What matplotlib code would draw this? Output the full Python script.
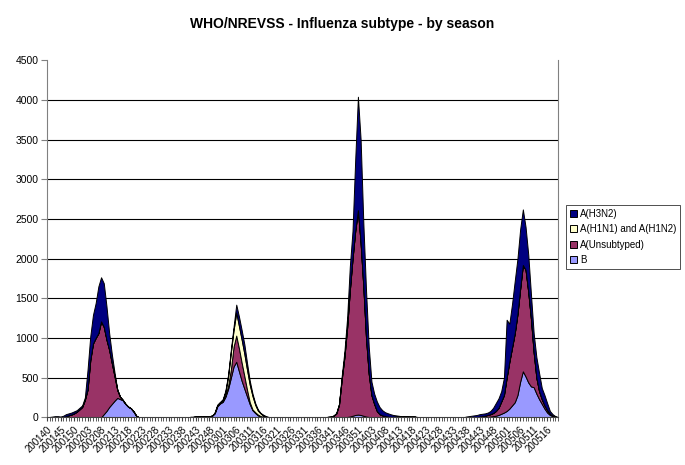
import matplotlib
matplotlib.use("Agg")
import matplotlib.pyplot as plt

plt.rcParams['font.family'] = ['Liberation Sans', 'DejaVu Sans']

# weekly counts of positive specimens, 200140 .. 200520
b_vals = ([0] * 21 +
          [40, 80, 130, 170, 210, 245, 230, 215, 170, 135, 115, 75, 20] +
          [0] * 19 +
          [5, 5, 10, 10, 10, 15, 15, 15, 20, 50, 140, 175, 195, 260, 360, 500, 640,
           700, 580, 460, 360, 262, 165, 90, 55, 25, 10, 5] +
          [0] * 30 +
          [5, 10, 20, 30, 35, 30, 20, 10, 5] +
          [0] * 8 +
          [8, 10, 10, 10, 10, 10, 8, 8, 8] +
          [0] * 26 +
          [5, 10, 15, 20, 30, 45, 60, 80, 110, 150, 190, 280, 450, 580, 515, 440, 390,
           380, 300, 230, 170, 110, 60, 30, 15, 5, 0])

unsub_vals = ([0] * 7 +
              [15, 25, 35, 50, 70, 100, 130, 220, 350, 720, 930, 1000, 1060, 1210,
               1100, 900, 720, 510, 305, 100, 30, 5] +
              [0] * 33 +
              [5, 10, 10, 10, 15, 40, 100, 250, 330, 290, 230, 160, 84, 25, 10, 10, 10,
               5, 3, 3] +
              [0] * 22 +
              [5, 8, 20, 50, 160, 480, 760, 1125, 1590, 1980, 2320, 2575, 2170, 1630,
               990, 545, 280, 170, 80, 40, 25, 15, 10, 5] +
              [0] * 32 +
              [10, 15, 20, 25, 30, 40, 60, 90, 155, 220, 420, 590, 730, 870, 1020, 1170,
               1340, 1345, 1140, 850, 440, 200, 100, 60, 40, 30, 15, 5, 3, 0])

h1_vals = ([0] * 63 +
           [5, 5, 10, 45, 120, 220, 210, 290, 280, 290, 280, 252, 220, 170, 95, 50,
            35, 12, 5] +
           [0] * 108)

h3_vals = ([0, 5, 10, 15, 15, 10, 20, 25, 25, 25, 25, 20, 20, 20, 30, 250, 300, 360,
            440, 590, 555, 550, 420, 210, 110, 45, 5] +
           [0] * 35 +
           [5, 5, 5, 15, 20, 20, 30, 40, 100, 120, 120, 120, 84, 50, 30, 20, 15, 5, 13,
            7, 5] +
           [0] * 21 +
           [5, 2, 5, 5, 10, 40, 70, 120, 300, 350, 900, 1430, 1300, 800, 600, 340, 170,
            130, 120, 90, 65, 50, 42, 35, 22, 15, 10, 5, 5, 5, 2, 2, 2, 5] +
           [0] * 17 +
           [10, 15, 20, 25, 30, 30, 30, 30, 30, 40, 65, 100, 120, 130, 220, 730, 480,
            550, 660, 700, 750, 700, 540, 470, 310, 240, 260, 230, 140, 130, 88, 35, 20,
            7, 5])

weeks_per_year = {2001: (40, 52), 2002: (1, 52), 2003: (1, 53), 2004: (1, 52), 2005: (1, 20)}
week_labels = []
for yr, (w0, w1) in weeks_per_year.items():
    for w in range(w0, w1 + 1):
        week_labels.append('%d%02d' % (yr, w))

series_names = ['B', 'A(Unsubtyped)', 'A(H1N1) and A(H1N2)', 'A(H3N2)']
series_colors = ['#9999FF', '#993366', '#FFFFCC', '#000080']

x = list(range(len(week_labels)))

fig = plt.figure(figsize=(6.85, 4.65), dpi=100)
ax = fig.add_axes([0.0686, 0.1025, 0.746, 0.768])

polys = ax.stackplot(x, b_vals, unsub_vals, h1_vals, h3_vals,
                     colors=series_colors, labels=series_names,
                     edgecolor='black', linewidth=0.7)

for yv in range(500, 4500, 500):
    ax.axhline(yv, color='black', linewidth=0.8, zorder=0)

ax.set_xlim(0, len(x) - 1)
ax.set_ylim(0, 4500)
ax.set_yticks(range(0, 4501, 500))
ax.tick_params(axis='y', labelsize=7.5, length=4, color='#808080', pad=2)

ax.set_xticks(x[::5])
ax.set_xticklabels(week_labels[::5], rotation=45, ha='right', rotation_mode='anchor',
                   fontsize=7)
ax.set_xticks(x, minor=True)
ax.tick_params(axis='x', which='both', length=3, color='#404040', pad=2)

ax.spines['top'].set_visible(False)
ax.spines['left'].set_color('#808080')
ax.spines['right'].set_color('#808080')
ax.spines['bottom'].set_color('#404040')

fig.text(0.499, 0.948, 'WHO/NREVSS - Influenza subtype - by season',
         ha='center', va='center', fontsize=10, fontweight='bold')

handles = polys[::-1]
leg = fig.legend(handles, series_names[::-1], loc='upper left',
                 bbox_to_anchor=(0.827, 0.559), fontsize=7, frameon=True,
                 fancybox=False, edgecolor='black', handlelength=0.7,
                 handleheight=0.7, handletextpad=0.3, labelspacing=0.55,
                 borderpad=0.4, borderaxespad=0)
leg.get_frame().set_linewidth(0.6)

fig.savefig('out.png', dpi=100)
